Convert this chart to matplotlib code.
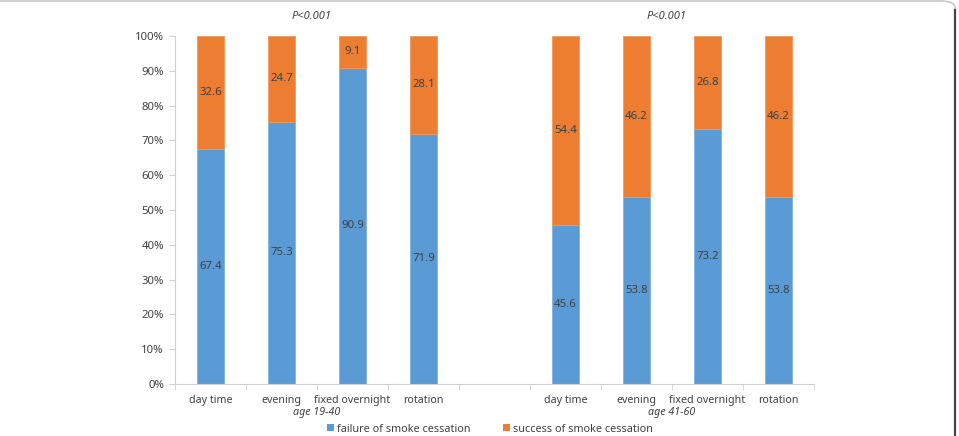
import matplotlib
matplotlib.use("Agg")
import matplotlib.pyplot as plt
from matplotlib.patches import FancyBboxPatch, Patch
import numpy as np

plt.rcParams['font.family'] = ['Noto Sans', 'DejaVu Sans']

categories = ["day time", "evening", "fixed overnight", "rotation"]
groups = ["age 19-40", "age 41-60"]
failure_1940 = [67.4, 75.3, 90.9, 71.9]
success_1940 = [32.6, 24.7, 9.1, 28.1]
failure_4160 = [45.6, 53.8, 73.2, 53.8]
success_4160 = [54.4, 46.2, 26.8, 46.2]
pvalues = ["P<0.001", "P<0.001"]
series_names = ["failure of smoke cessation", "success of smoke cessation"]
yticklabels = ["0%", "10%", "20%", "30%", "40%", "50%", "60%", "70%", "80%", "90%", "100%"]

BLUE = "#5B9BD5"
ORANGE = "#ED7D31"
TXT = "#404040"

W, H = 959, 436
fig = plt.figure(figsize=(W / 100, H / 100), dpi=100)
ax = fig.add_axes([175 / W, 52 / H, (814 - 175) / W, (384 - 36) / H])

pos_left = np.arange(4)
pos_right = np.arange(4) + 5
positions = np.concatenate([pos_left, pos_right])
fail = np.array(failure_1940 + failure_4160)
succ = np.array(success_1940 + success_4160)

bw = 0.39
ax.bar(positions, fail, width=bw, color=BLUE, edgecolor="#7fb3e0", linewidth=0.6)
ax.bar(positions, succ, bottom=fail, width=bw, color=ORANGE, edgecolor="#f29a5c", linewidth=0.6)

for x, f, s in zip(positions, fail, succ):
    ax.text(x, f / 2, f"{f:.1f}", ha="center", va="center", fontsize=8.2, color=TXT)
    ax.text(x, f + s / 2, f"{s:.1f}", ha="center", va="center", fontsize=8.2, color=TXT)

ax.set_xlim(-0.5, 8.5)
ax.set_ylim(0, 100)
ax.set_yticks(np.arange(0, 101, 10))
ax.set_yticklabels(yticklabels, fontsize=8.2, color=TXT)
ax.tick_params(axis="y", length=4, color="#d0d0d0", pad=4)

ax.set_xticks(positions)
ax.set_xticklabels(categories + categories, fontsize=7.7, color=TXT)
ax.tick_params(axis="x", which="major", length=0, pad=8)
ax.set_xticks(np.arange(-0.5, 9.0, 1.0), minor=True)
ax.tick_params(axis="x", which="minor", length=4, color="#d0d0d0")

for sp in ["top", "right"]:
    ax.spines[sp].set_visible(False)
ax.spines["left"].set_color("#d0d0d0")
ax.spines["bottom"].set_color("#d0d0d0")

trans = ax.get_xaxis_transform()
for gx, g, p in zip([1.5, 6.5], groups, pvalues):
    ax.text(gx, -0.066, g, transform=trans, ha="center", va="top", fontsize=7.7,
            style="italic", color=TXT)
    ax.text(gx - 0.07, 1.055, p, transform=trans, ha="center", va="center", fontsize=8,
            style="italic", color=TXT)

handles = [Patch(facecolor=BLUE), Patch(facecolor=ORANGE)]
leg = fig.legend(handles, series_names, loc="center", bbox_to_anchor=(490 / W, 1 - 429 / H),
                 ncol=2, frameon=False, fontsize=7.8, handlelength=0.6, handleheight=0.6,
                 handletextpad=0.3, columnspacing=3.0)
for t in leg.get_texts():
    t.set_color(TXT)

# frame
frame = FancyBboxPatch((-30 / W, -30 / H), (955 + 30) / W, (435 + 30) / H,
                       boxstyle="round,pad=0,rounding_size=0.015", transform=fig.transFigure,
                       facecolor="none", edgecolor="#c8c8c8", linewidth=1.2)
fig.patches.append(frame)
fig.add_artist(plt.Line2D([955 / W, 955 / W], [0, 1 - 10 / H], transform=fig.transFigure,
                          color="#444444", linewidth=1.6))

fig.savefig("out.png", dpi=100)
